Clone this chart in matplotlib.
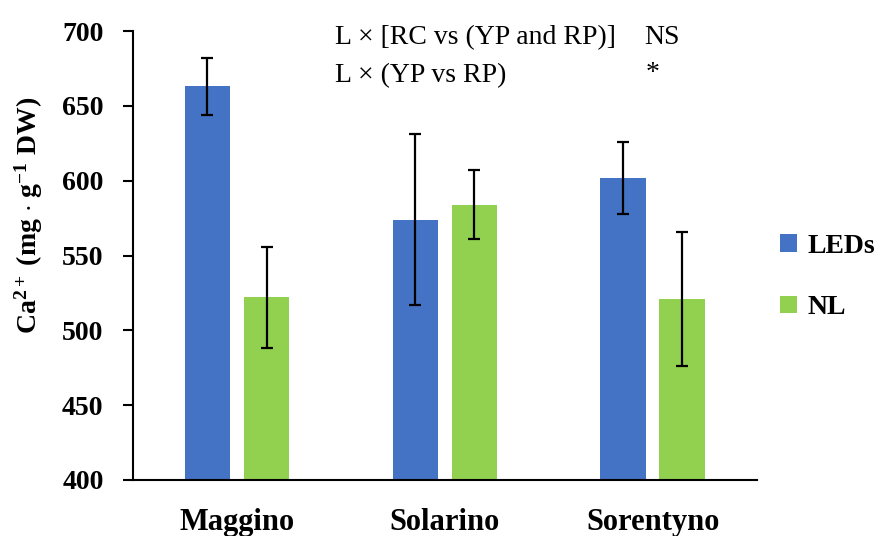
import matplotlib
matplotlib.use("Agg")
import matplotlib.pyplot as plt
import numpy as np

categories = ["Maggino", "Solarino", "Sorentyno"]
series_names = ["LEDs", "NL"]
led_values = [663, 574, 602]
led_err = [19, 57, 24]
nl_values = [522, 584, 521]
nl_err = [34, 23, 45]
yticks = [400, 450, 500, 550, 600, 650, 700]

plt.rcParams['font.family'] = ['Liberation Serif', 'DejaVu Serif']
plt.rcParams['mathtext.fontset'] = 'custom'
plt.rcParams['mathtext.rm'] = 'Liberation Serif:bold'
plt.rcParams['mathtext.bf'] = 'Liberation Serif:bold'
plt.rcParams['mathtext.it'] = 'Liberation Serif:bold'

fig = plt.figure(figsize=(8.81, 5.36), dpi=100)
ax = fig.add_axes([0.151, 0.1045, 0.708, 0.8375])

x = np.arange(len(categories))
w = 0.22
off = 0.142
ekw = dict(ecolor='black', capsize=4.5, elinewidth=1.6, capthick=1.6)
ax.bar(x - off, led_values, w, yerr=led_err, color='#4472C4', label=series_names[0], error_kw=ekw, zorder=2)
ax.bar(x + off, nl_values, w, yerr=nl_err, color='#92D050', label=series_names[1], error_kw=ekw, zorder=2)

ax.set_xlim(-0.5, 2.5)
ax.set_ylim(400, 700)
ax.set_yticks(yticks)
ax.set_xticks(x)
ax.set_xticklabels(categories, fontsize=22, fontweight='bold')
ax.tick_params(axis='x', length=0, pad=20)
ax.tick_params(axis='y', length=7.2, width=1.5, labelsize=20, pad=14)
for lab in ax.get_yticklabels():
    lab.set_fontweight('bold')
ax.spines['top'].set_visible(False)
ax.spines['right'].set_visible(False)
ax.spines['left'].set_linewidth(1.5)
ax.spines['bottom'].set_linewidth(1.5)

ax.set_ylabel(r"Ca$^{2+}$ (mg $\cdot$ g$^{-1}$ DW)", fontsize=20, fontweight='bold')
ax.yaxis.set_label_coords(-0.141, 0.59)

ax.text(0.323, 0.985, "L × [RC vs (YP and RP)]", transform=ax.transAxes, fontsize=20, va='center', ha='left')
ax.text(0.82, 0.985, "NS", transform=ax.transAxes, fontsize=20, va='center', ha='left')
ax.text(0.323, 0.90, "L × (YP vs RP)", transform=ax.transAxes, fontsize=20, va='center', ha='left')
ax.text(0.822, 0.905, "*", transform=ax.transAxes, fontsize=20, va='center', ha='left')

leg = ax.legend(loc='center left', bbox_to_anchor=(1.037, 0.452), frameon=False,
                prop={'size': 20, 'weight': 'bold'}, handlelength=0.6, handleheight=0.6,
                labelspacing=1.3, handletextpad=0.4, borderpad=0, borderaxespad=0)

fig.savefig("out.png", dpi=100)
